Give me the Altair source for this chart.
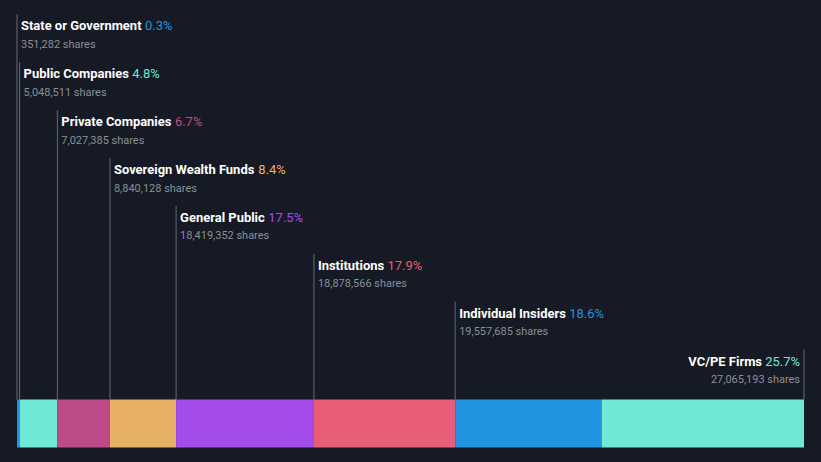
import altair as alt
import pandas as pd
import struct, glob, subprocess
import jinja2

# ---------------- data ----------------
categories = ["State or Government", "Public Companies", "Private Companies",
              "Sovereign Wealth Funds", "General Public", "Institutions",
              "Individual Insiders", "VC/PE Firms"]
shares = [351282, 5048511, 7027385, 8840128, 18419352, 18878566, 19557685, 27065193]
colors = ["#2394df", "#6fe8d6", "#bd4b87", "#e6b064", "#a54deb", "#e85d77", "#2394df", "#6fe8d6"]

FONT = "Roboto"
BG = "#151a24"
W, H = 789, 446


# ---------------- text measuring (reads font file metrics) ----------------
def find_font(style):
    try:
        out = subprocess.run(["fc-match", "-f", "%{file}", f"{FONT}:{style}"],
                             capture_output=True, text=True, timeout=5).stdout.strip()
        if out and FONT.lower() in out.lower():
            return out
    except Exception:
        pass
    for base in ["/usr/share/fonts", "/usr/local/share/fonts"]:
        hits = glob.glob(f"{base}/**/Roboto*.ttf", recursive=True)
        if hits:
            return hits[0]
    return None


def make_measurer(path, weight, fallback_em):
    try:
        data = open(path, "rb").read()

        def u16(o): return struct.unpack(">H", data[o:o + 2])[0]
        def i16(o): return struct.unpack(">h", data[o:o + 2])[0]
        def u32(o): return struct.unpack(">I", data[o:o + 4])[0]
        def fixed(o): return struct.unpack(">i", data[o:o + 4])[0] / 65536.0
        def f2(o): return i16(o) / 16384.0

        tables = {}
        for i in range(u16(4)):
            off = 12 + 16 * i
            tables[data[off:off + 4].decode("latin1")] = u32(off + 8)
        upem = u16(tables["head"] + 18)
        nhm = u16(tables["hhea"] + 34)
        hm = tables["hmtx"]
        adv = [u16(hm + 4 * i) for i in range(nhm)]
        cm = tables["cmap"]
        cmap = {}
        for i in range(u16(cm + 2)):
            st = cm + u32(cm + 4 + 8 * i + 4)
            if u16(st) != 4:
                continue
            segx2 = u16(st + 6)
            seg = segx2 // 2
            ends = struct.unpack(">%dH" % seg, data[st + 14:st + 14 + segx2])
            so = st + 16 + segx2
            starts = struct.unpack(">%dH" % seg, data[so:so + segx2])
            do = so + segx2
            deltas = struct.unpack(">%dh" % seg, data[do:do + segx2])
            ro = do + segx2
            ros = struct.unpack(">%dH" % seg, data[ro:ro + segx2])
            for s in range(seg):
                for c in range(starts[s], min(ends[s], 0x250) + 1):
                    if ros[s] == 0:
                        g = (c + deltas[s]) & 0xFFFF
                    else:
                        a = ro + 2 * s + ros[s] + 2 * (c - starts[s])
                        g = u16(a)
                        if g:
                            g = (g + deltas[s]) & 0xFFFF
                    cmap[c] = g
            break

        extra = lambda g: 0.0
        if "fvar" in tables and "HVAR" in tables:
            fv = tables["fvar"]
            axes_off = fv + u16(fv + 4)
            n_axes, axis_size = u16(fv + 8), u16(fv + 10)
            coords = []
            for a in range(n_axes):
                o = axes_off + a * axis_size
                tag = data[o:o + 4].decode("latin1")
                mn, df_, mx = fixed(o + 4), fixed(o + 8), fixed(o + 12)
                v = weight if tag == "wght" else df_
                if v < df_:
                    n = (v - df_) / (df_ - mn)
                elif v > df_:
                    n = (v - df_) / (mx - df_)
                else:
                    n = 0.0
                coords.append(n)
            if "avar" in tables:
                o = tables["avar"] + 8
                for a in range(n_axes):
                    cnt = u16(o)
                    o += 2
                    pts = [(f2(o + 4 * k), f2(o + 4 * k + 2)) for k in range(cnt)]
                    o += 4 * cnt
                    n = coords[a]
                    for k in range(1, len(pts)):
                        if n <= pts[k][0]:
                            f0, t0 = pts[k - 1]
                            f1, t1 = pts[k]
                            n = t0 + (t1 - t0) * (n - f0) / (f1 - f0) if f1 != f0 else t0
                            break
                    coords[a] = n
            hv = tables["HVAR"]
            ivs = hv + u32(hv + 4)
            amap = u32(hv + 8)
            rl = ivs + u32(ivs + 2)
            nd = u16(ivs + 6)
            doffs = [ivs + u32(ivs + 8 + 4 * k) for k in range(nd)]
            r_axes, r_cnt = u16(rl), u16(rl + 2)
            scal = []
            for r in range(r_cnt):
                s = 1.0
                for a in range(r_axes):
                    o = rl + 4 + (r * r_axes + a) * 6
                    st_, pk, en = f2(o), f2(o + 2), f2(o + 4)
                    c = coords[a] if a < len(coords) else 0.0
                    if pk == 0 or st_ > pk or pk > en or (st_ < 0 < en):
                        continue
                    if c == pk:
                        continue
                    if c <= st_ or c >= en:
                        s = 0.0
                        break
                    s *= (c - st_) / (pk - st_) if c < pk else (en - c) / (en - pk)
                scal.append(s)

            def delta(outer, inner):
                o = doffs[outer]
                wdc, ric = u16(o + 2), u16(o + 4)
                ridx = [u16(o + 6 + 2 * k) for k in range(ric)]
                lng = wdc & 0x8000
                wc = wdc & 0x7FFF
                rs = (4 * wc + 2 * (ric - wc)) if lng else (2 * wc + (ric - wc))
                p = o + 6 + 2 * ric + inner * rs
                tot = 0.0
                for k in range(ric):
                    if k < wc:
                        if lng:
                            d = struct.unpack(">i", data[p:p + 4])[0]; p += 4
                        else:
                            d = i16(p); p += 2
                    else:
                        if lng:
                            d = i16(p); p += 2
                        else:
                            d = struct.unpack(">b", data[p:p + 1])[0]; p += 1
                    tot += d * scal[ridx[k]]
                return tot

            if amap:
                m = hv + amap
                fmt, ef = data[m], data[m + 1]
                if fmt == 0:
                    cnt, p0 = u16(m + 2), m + 4
                else:
                    cnt, p0 = u32(m + 2), m + 6
                size = ((ef & 0x30) >> 4) + 1
                ib = (ef & 0x0F) + 1

                def mapg(g):
                    g = min(g, cnt - 1)
                    e = int.from_bytes(data[p0 + g * size:p0 + (g + 1) * size], "big")
                    return e >> ib, e & ((1 << ib) - 1)
            else:
                mapg = lambda g: (0, g)
            extra = lambda g: delta(*mapg(g))

        cache = {}

        def gw(g):
            if g not in cache:
                cache[g] = (adv[g] if g < nhm else adv[-1]) + extra(g)
            return cache[g]

        def measure(text, size):
            return sum(gw(cmap.get(ord(ch), 0)) for ch in text) * size / upem
        return measure
    except Exception:
        return lambda text, size: len(text) * size * fallback_em


fpath = find_font("bold")
wb = make_measurer(fpath, 700, 0.6)
wr = make_measurer(fpath, 400, 0.55)

# ---------------- table ----------------
total = sum(shares)
u = total / W  # data units per pixel
rows = []
cum = 0
for i, (c, s) in enumerate(zip(categories, shares)):
    last = i == len(categories) - 1
    pct = f"{s / total * 100:.1f}%"
    anchor = cum + s if last else cum
    if last:
        name_x = anchor - (4 + wr(pct, 13) + wb(" ", 13)) * u
        pct_x = anchor - 4 * u
        sub_x = anchor - 4 * u
    else:
        name_x = anchor + 4 * u
        pct_x = anchor + (4 + wb(c + " ", 13)) * u
        sub_x = anchor + 4 * u
    rows.append(dict(cat=c, start=cum, end=cum + s, anchor=anchor, level=i, last=last,
                     pct=pct, sub=f"{s:,} shares",
                     name_x=name_x, pct_x=pct_x, sub_x=sub_x))
    cum += s
df = pd.DataFrame(rows)

xs = alt.Scale(domain=[0, total], nice=False, zero=False)
ys = alt.Scale(domain=[0, H], nice=False, zero=False, reverse=True)
cs = alt.Scale(domain=categories, range=colors)

base = alt.Chart(df).transform_calculate(
    top="6 + 48 * datum.level",
    ty="18 + 48 * datum.level",
    sy="36.5 + 48 * datum.level",
)

bars = base.mark_bar(stroke=None).encode(
    x=alt.X("start:Q", scale=xs, axis=None),
    x2="end:Q",
    y=alt.value(392),
    y2=alt.value(440),
    color=alt.Color("cat:N", scale=cs, legend=None),
)

rules = base.mark_rule(color="#656a75", strokeWidth=1).encode(
    x=alt.X("anchor:Q", scale=xs, axis=None),
    y=alt.Y("top:Q", scale=ys, axis=None),
    y2=alt.value(392),
)


def text_layers(filt, align):
    b = base.transform_filter(filt)
    name = b.mark_text(align=align, baseline="middle", font=FONT, fontSize=13,
                       fontWeight="bold", color="#ffffff").encode(
        x=alt.X("name_x:Q", scale=xs, axis=None),
        y=alt.Y("ty:Q", scale=ys, axis=None),
        text="cat:N",
    )
    pct = b.mark_text(align=align, baseline="middle", font=FONT, fontSize=13,
                      fontWeight="normal").encode(
        x=alt.X("pct_x:Q", scale=xs, axis=None),
        y=alt.Y("ty:Q", scale=ys, axis=None),
        text="pct:N",
        color=alt.Color("cat:N", scale=cs, legend=None),
    )
    sub = b.mark_text(align=align, baseline="middle", font=FONT, fontSize=11,
                      color="#8b8f98").encode(
        x=alt.X("sub_x:Q", scale=xs, axis=None),
        y=alt.Y("sy:Q", scale=ys, axis=None),
        text="sub:N",
    )
    return [name, pct, sub]


layers = [rules, bars] + text_layers("!datum.last", "left") + text_layers("datum.last", "right")

chart = alt.layer(*layers).properties(
    width=W, height=H, background=BG,
    padding={"left": 8, "right": 8, "top": 0, "bottom": 0},
).configure_view(stroke=None).resolve_scale(color="shared")

TEMPLATE = jinja2.Template("""<!DOCTYPE html>
<html>
<head>
  <style>
    html, body { background: """ + BG + """; }
    #{{ output_div }}.vega-embed { width: 100%; display: flex; }
  </style>
  <script type="text/javascript" src="{{ base_url }}/vega@{{ vega_version }}"></script>
  <script type="text/javascript" src="{{ base_url }}/vega-lite@{{ vegalite_version }}"></script>
  <script type="text/javascript" src="{{ base_url }}/vega-embed@{{ vegaembed_version }}"></script>
</head>
<body>
  <div id="{{ output_div }}"></div>
  <script>
    (function(vegaEmbed) {
      var spec = {{ spec }};
      var embedOpt = {{ embed_options }};
      vegaEmbed("#{{ output_div }}", spec, embedOpt);
    })(vegaEmbed);
  </script>
</body>
</html>""")

try:
    chart.save("out.html", embed_options={"renderer": "svg", "actions": False}, template=TEMPLATE)
except TypeError:
    chart.save("out.html", embed_options={"renderer": "svg", "actions": False})
